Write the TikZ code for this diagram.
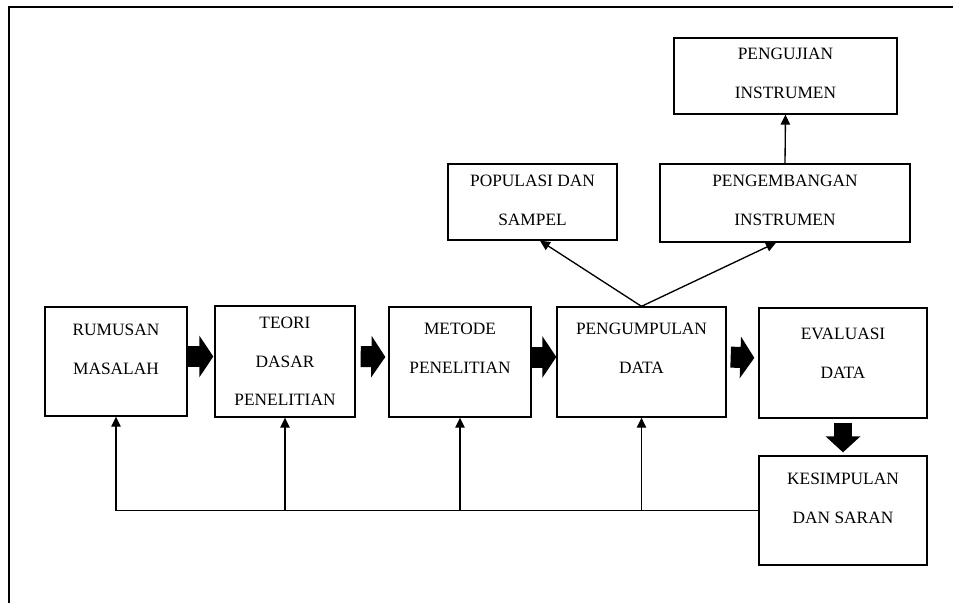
\documentclass[tikz,border=0pt]{standalone}
\usepackage{fontspec}
\setmainfont{Liberation Serif}
\usetikzlibrary{arrows.meta}
\tikzset{
  box/.style={draw, line width=1pt, align=center, inner sep=0pt,
    font={\fontsize{13}{29}\selectfont}},
  bigarrow/.style={line width=15.75pt, -{Triangle[width=30.75pt,length=10.5pt]}},
  fb/.style={line width=1pt, -{Triangle[width=7pt,length=7.5pt]}}
}
\begin{document}
\begin{tikzpicture}[x=0.75pt,y=-0.75pt]
  \useasboundingbox (0,0) rectangle (953,603);
  {
  % Drawing the frame
  \draw [line width=1.2pt] (9,603) -- (9,7) -- (953,7);%

  % Boxes of the main row
  \node [box, minimum width=106.5pt, minimum height=81.75pt, text depth=18.75pt] (rm) at (116,361.5) {RUMUSAN\\MASALAH};%
  \node [box, minimum width=105pt, minimum height=83.25pt] (teori) at (285,361.5) {TEORI\\DASAR\\PENELITIAN};%
  \node [box, minimum width=106.5pt, minimum height=82.5pt, text depth=21pt] (metode) at (460,362) {METODE\\PENELITIAN};%
  \node [box, minimum width=126.75pt, minimum height=82.5pt, text depth=21pt] (kumpul) at (641.5,362) {PENGUMPULAN\\DATA};%
  \node [box, minimum width=126pt, minimum height=82.5pt, text depth=15pt] (eval) at (843,363) {EVALUASI\\DATA};%
  \node [box, minimum width=126pt, minimum height=81.75pt, text depth=18.75pt] (simpul) at (843,510.5) {KESIMPULAN\\DAN SARAN};%

  % Boxes above
  \node [box, minimum width=126.75pt, minimum height=57pt, text depth=3pt] (pop) at (532.5,202) {POPULASI DAN\\SAMPEL};%
  \node [box, minimum width=187.5pt, minimum height=58.5pt, text depth=4.5pt] (kembang) at (785,203) {PENGEMBANGAN\\INSTRUMEN};%
  \node [box, minimum width=167.25pt, minimum height=57pt, text depth=4.5pt] (uji) at (785.5,76) {PENGUJIAN\\INSTRUMEN};%

  % Drawing block arrows
  \draw [bigarrow, shorten >=0.75pt] ([yshift=3.75pt]rm.east) -- ([yshift=3.75pt]teori.west);%
  \draw [bigarrow, shorten <=3.75pt, shorten >=2.25pt] ([yshift=3.75pt]teori.east) -- ([yshift=3.75pt]metode.west);%
  \draw [bigarrow] ([yshift=3.75pt]metode.east) -- ([yshift=3.75pt]kumpul.west);%
  \draw [bigarrow, shorten <=3pt, shorten >=3pt] ([yshift=3.75pt]kumpul.east) -- ([yshift=3.75pt]eval.west);%
  \draw [line width=13.5pt, -{Triangle[width=25.5pt,length=12pt]}, shorten <=3pt, shorten >=2.25pt] (eval.south) -- (simpul.north);%

  % Drawing feedback lines
  \draw [fb] (simpul.west) -| (rm.south);%
  \draw [fb] (teori.south |- simpul.west) -- (teori.south);%
  \draw [fb] (metode.south |- simpul.west) -- (metode.south);%
  \draw [fb] (kumpul.south |- simpul.west) -- (kumpul.south);%

  % Drawing branches
  \draw [fb] (kumpul.north) -- ([xshift=5.6pt]pop.south);%
  \draw [fb] (kumpul.north) -- ([xshift=-6.75pt]kembang.south);%
  \draw [fb] (kembang.north) -- (uji.south);%
  }
\end{tikzpicture}
\end{document}
